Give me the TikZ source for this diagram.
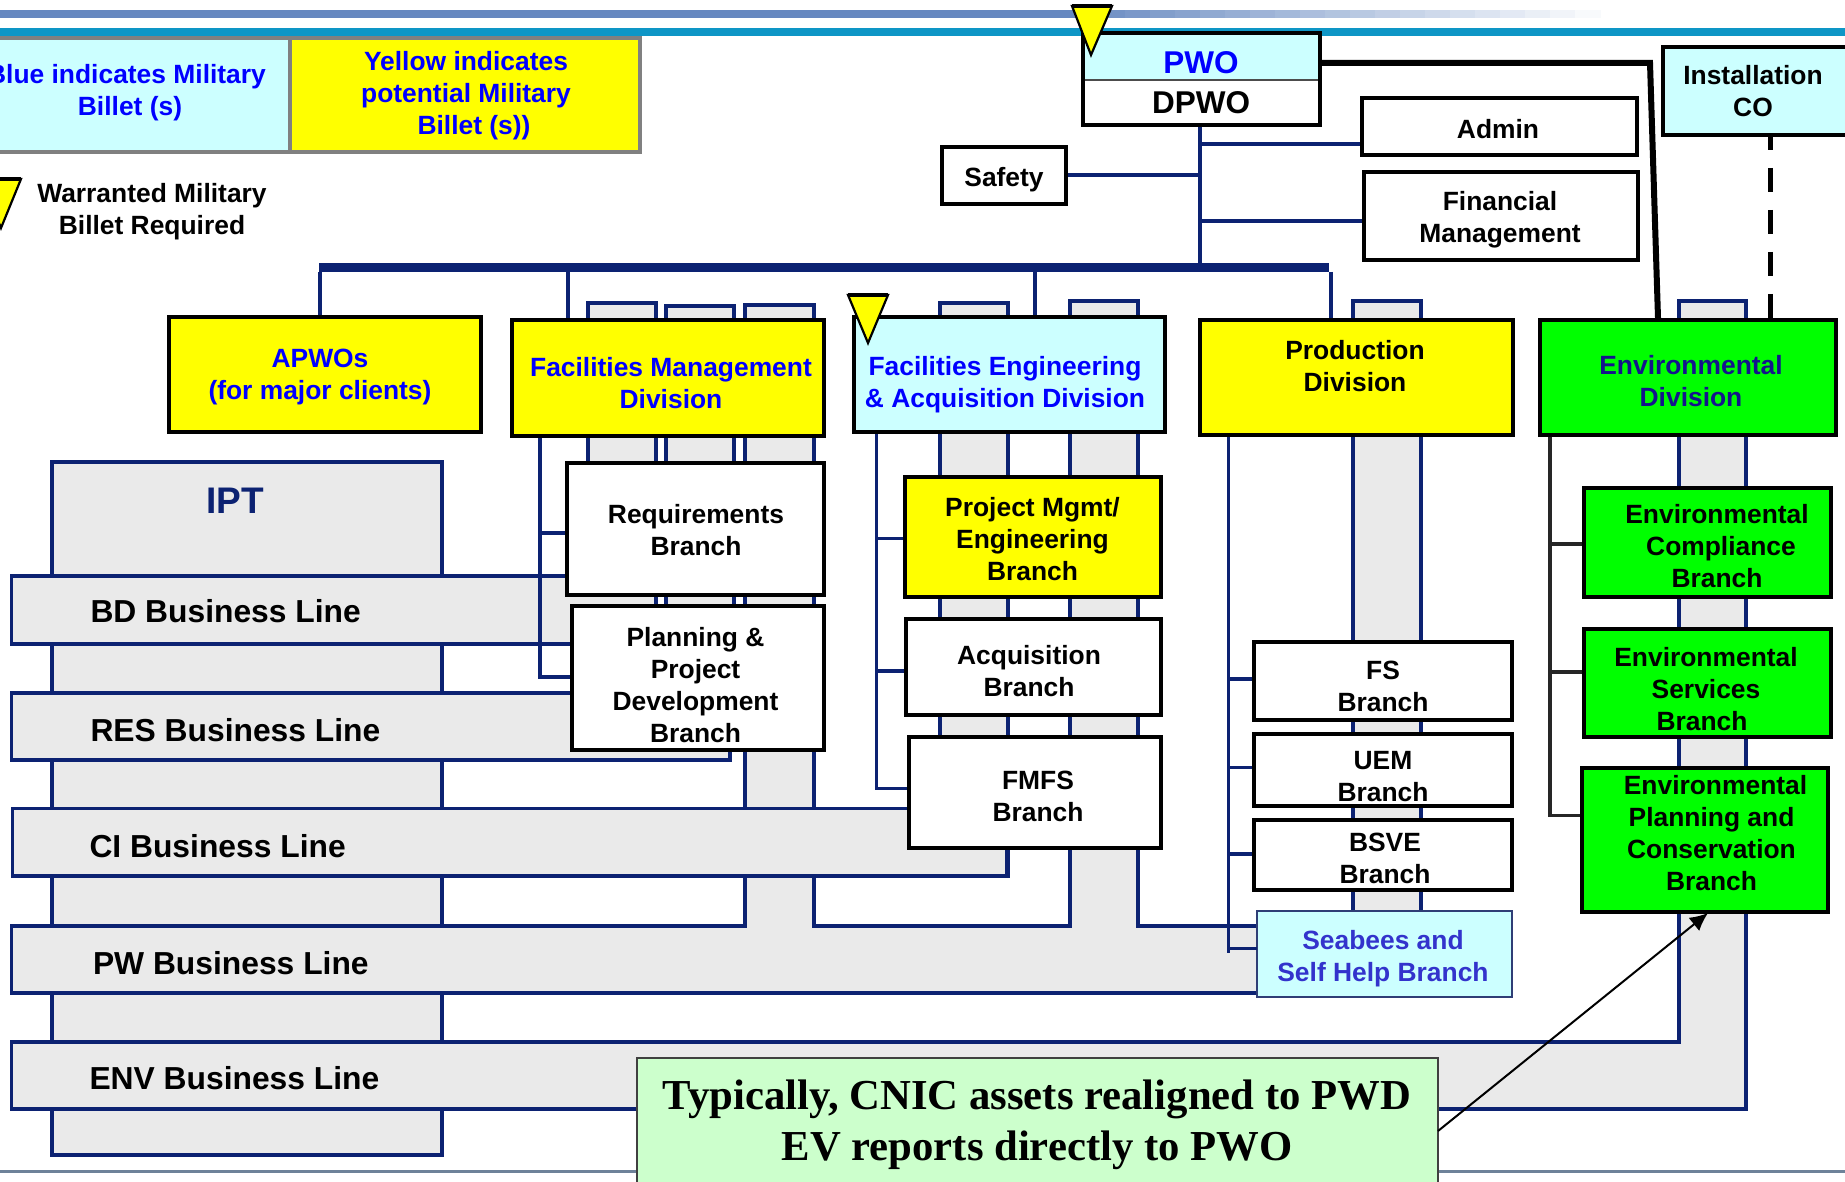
\documentclass[tikz,border=0pt]{standalone}
\usepackage{fontspec}
\setmainfont{Liberation Sans}
\newfontfamily\callfont{Liberation Serif}
\usetikzlibrary{arrows.meta}
\definecolor{navy}{HTML}{0C2272}
\definecolor{panel}{HTML}{EAEAEA}
\definecolor{cyanbox}{HTML}{CCFFFF}
\definecolor{keyyellow}{HTML}{FFFF00}
\definecolor{keygreen}{HTML}{00FF00}
\definecolor{pureblue}{HTML}{0000FF}
\definecolor{seablue}{HTML}{3333CC}
\definecolor{envtext}{HTML}{14148C}
\definecolor{callgreen}{HTML}{CCFFCC}
\definecolor{teal}{HTML}{0E96C6}
\definecolor{bandblue}{HTML}{6688C0}
\definecolor{footline}{HTML}{6E8299}
\definecolor{keygray}{HTML}{808080}
\tikzset{
  boxb/.style={draw=black,line width=4pt,inner sep=0pt,outer sep=0pt},
  flat/.style={inner sep=0pt,outer sep=0pt},
  keybox/.style={draw=keygray,line width=4pt,inner sep=0pt,outer sep=0pt},
  txt/.style={font=\fontsize{26.4}{32}\selectfont\bfseries,align=center,inner sep=0pt,outer sep=0pt},
  linetxt/.style={font=\fontsize{31.8}{36}\selectfont\bfseries,anchor=west,inner sep=0pt,outer sep=0pt},
  region/.style={fill=panel,draw=navy,line width=3.6pt,line join=miter},
  conn/.style={draw=navy,line width=3.6pt},
  blackconn/.style={draw=black!85,line width=3.4pt},
  tri/.style={fill=keyyellow,draw=black,line width=2.2pt,line join=miter},
  tritop/.style={draw=black,line width=4.5pt}
}
\newcommand{\bx}[6]{%
  \pgfmathsetmacro{\bxw}{#4-#2}\pgfmathsetmacro{\bxh}{#5-#3}%
  \node[#6,minimum width=\bxw pt,minimum height=\bxh pt] (#1) at ({(#2+#4)/2},{(#3+#5)/2}) {};}
% horizontal branch from a trunk point to a node anchor
\newcommand{\brh}[4]{\coordinate (qq) at (#1,#2); \draw[#4] (qq) -- (qq -| #3);}
% vertical drop at x from node anchor to node anchor
\newcommand{\drop}[4]{\coordinate (qq) at (#1,0); \draw[#4] (qq |- #2) -- (qq |- #3);}
\begin{document}
\begin{tikzpicture}[x=1pt,y=-1pt]
\useasboundingbox (0,0) rectangle (1845,1182);
\clip (0,0) rectangle (1845,1182);
\fill[white] (0,0) rectangle (1845,1182);
% header bands
\fill[bandblue] (0,10) rectangle (1050,18);
\foreach \st in {0,...,21}{
  \pgfmathsetmacro{\mixv}{100-\st*100/22}
  \fill[bandblue!\mixv!white] ({1050+\st*25},10) rectangle ({1050+(\st+1)*25+0.5},18);
}
\fill[teal] (0,28) rectangle (1845,36);
\fill[footline] (0,1169.5) rectangle (1845,1172.5);
% business-line panels
\draw[region] (52,1155) -- (52,462) -- (442,462) -- (442,1155) -- cycle;
\draw[region] (11.5,1042) -- (1679,1042) -- (1679,301) -- (1746,301) -- (1746,1109) -- (11.5,1109) -- cycle;
\draw[region] (11.5,926) -- (745,926) -- (745,305) -- (814,305) -- (814,926) -- (1070,926) -- (1070,301) -- (1138,301) -- (1138,926) -- (1353,926) -- (1353,301) -- (1421,301) -- (1421,993) -- (11.5,993) -- cycle;
\draw[region] (12.6,808.5) -- (940,808.5) -- (940,303) -- (1008,303) -- (1008,876) -- (12.6,876) -- cycle;
\draw[region] (11.5,693) -- (666,693) -- (666,306) -- (734,306) -- (734,640) -- (730,640) -- (730,760) -- (11.5,760) -- cycle;
\draw[region] (11.5,576) -- (588,576) -- (588,303) -- (656,303) -- (656,644) -- (11.5,644) -- cycle;
\draw[navy,line width=5pt] (1007,848) -- (1007,878);
\node[txt,font=\fontsize{37}{42}\selectfont\bfseries,text=navy] (ipt) at (235,501) {IPT};
\node[linetxt] (bdl) at (90.5,611) {BD Business Line};
\node[linetxt] (resl) at (90.5,730) {RES Business Line};
\node[linetxt] (cil) at (89.5,846) {CI Business Line};
\node[linetxt] (pwl) at (93,963) {PW Business Line};
\node[linetxt] (envl) at (89.5,1078) {ENV Business Line};
% key
\bx{keyblue}{-20}{38}{290}{152}{keybox,fill=cyanbox}
\bx{keyyel}{290}{38}{640}{152}{keybox,fill=keyyellow}
\node[txt,text=pureblue] (keybluet) at (126.5,93) {Blue indicates Military\\\hspace*{7pt}Billet (s)};
\node[txt,text=pureblue] (keyyelt) at (466,96) {Yellow indicates\\potential Military\\\hspace*{16pt}Billet (s))};
\node[txt] (warrt) at (152,212) {Warranted Military\\Billet Required};
% spine nodes
\bx{pwo}{1083}{33}{1320}{80}{flat,fill=cyanbox}
\bx{dpwo}{1083}{80}{1320}{125}{flat,fill=white}
\bx{admin}{1362}{98}{1637}{155}{boxb,fill=white}
\bx{finance}{1364}{172}{1638}{260}{boxb,fill=white}
\bx{safety}{942}{147}{1066}{204}{boxb,fill=white}
\bx{instco}{1662.5}{47}{1860}{135}{boxb,fill=cyanbox}
\bx{bar}{319}{263}{1329}{272}{flat,fill=navy}
% divisions
\bx{apwo}{169}{317}{481}{432}{boxb,fill=keyyellow}
\bx{fm}{512}{320}{824}{436}{boxb,fill=keyyellow}
\bx{fe}{854}{317}{1165}{432}{boxb,fill=cyanbox}
\bx{prod}{1200}{320}{1513}{435}{boxb,fill=keyyellow}
\bx{env}{1540}{320}{1835.5}{435}{boxb,fill=keygreen}
% branches
\bx{req}{566.6}{462.6}{824}{594.7}{boxb,fill=white}
\bx{plan}{572}{605.5}{824}{750}{boxb,fill=white}
\bx{pm}{905}{477}{1161}{597}{boxb,fill=keyyellow}
\bx{acq}{906}{619}{1161}{715}{boxb,fill=white}
\bx{fmfs}{909}{737}{1161}{848}{boxb,fill=white}
\bx{fs}{1254.4}{642}{1512}{720}{boxb,fill=white}
\bx{uem}{1254.4}{734}{1512}{806}{boxb,fill=white}
\bx{bsve}{1254.4}{820}{1512}{890}{boxb,fill=white}
\bx{seabee}{1257}{911}{1512}{997}{flat,draw=navy!70!gray,line width=2pt,fill=cyanbox}
\bx{ec}{1584}{488}{1831}{597}{boxb,fill=keygreen}
\bx{es}{1584}{629}{1831}{737}{boxb,fill=keygreen}
\bx{ep}{1582}{768}{1828}{912}{boxb,fill=keygreen}
% connectors
\drop{1200}{dpwo.south}{bar.north}{conn}
\brh{1200}{144}{admin.west}{conn}
\brh{1200}{175}{safety.east}{conn}
\brh{1200}{221}{finance.west}{conn}
\drop{320}{bar.south}{apwo.north}{conn}
\drop{568}{bar.south}{fm.north}{conn}
\drop{1035}{bar.south}{fe.north}{conn}
\drop{1331}{bar.south}{prod.north}{conn}
% Facilities Management trunk
\coordinate (fmbranch) at (540,677);
\draw[conn] (fmbranch |- fm.south) -- (fmbranch) -- (fmbranch -| plan.west);
\brh{540}{533}{req.west}{conn}
% Facilities Engineering trunk
\coordinate (febranch) at (876.6,788.5);
\draw[conn] (febranch |- fe.south) -- (febranch) -- (febranch -| fmfs.west);
\brh{876.6}{538.5}{pm.west}{conn}
\brh{876.6}{671}{acq.west}{conn}
% Production trunk
\coordinate (prodbranch) at (1228.5,948.6);
\coordinate (prodend) at (1228.5,953);
\draw[conn] (prodbranch |- prod.south) -- (prodend);
\draw[conn] (prodbranch) -- (prodbranch -| seabee.west);
\brh{1228.5}{679}{fs.west}{conn}
\brh{1228.5}{767.5}{uem.west}{conn}
\brh{1228.5}{854}{bsve.west}{conn}
% Environmental trunk
\coordinate (envbranch) at (1550,815.5);
\draw[blackconn] (envbranch |- env.south) -- (envbranch) -- (envbranch -| ep.west);
\brh{1550}{544}{ec.west}{blackconn}
\brh{1550}{672}{es.west}{blackconn}
% redraw box outlines over the connector ends
\foreach \nn in {admin,finance,safety,apwo,fm,fe,prod,env,req,plan,pm,acq,fmfs,fs,uem,bsve,ec,es,ep}{
  \draw[black,line width=4pt] (\nn.north west) rectangle (\nn.south east);}
% PWO frame
\draw[black!70,line width=1.5pt] (pwo.south west) -- (pwo.south east);
\draw[black,line width=4pt] (pwo.north west) rectangle (dpwo.south east);
% PWO to Environmental, Installation CO to Environmental
\coordinate (pwoout) at (1319,63);
\coordinate (pwobend) at (1650,63);
\coordinate (envin) at (1658,318);
\draw[black,line width=6pt,line join=miter] (pwoout) -- (pwobend) -- (envin);
\drop{1770}{instco.south}{env.north}{draw=black,line width=5pt,dash pattern=on 24pt off 18pt,dash phase=9pt}
% texts
\node[txt,font=\fontsize{31.5}{36}\selectfont\bfseries,text=pureblue] (pwot) at (1201,63) {PWO};
\node[txt,font=\fontsize{31.5}{36}\selectfont\bfseries] (dpwot) at (1201,103) {DPWO};
\node[txt] (admint) at (1498,129) {Admin};
\node[txt] (financet) at (1500,220) {Financial\\Management};
\node[txt] (safetyt) at (1004,180) {Safety};
\node[txt] (instcot) at (1753,91) {Installation\\CO};
\node[txt,text=pureblue] (apwot) at (320,377.5) {APWOs\\(for major clients)};
\node[txt,text=pureblue] (fmt) at (671,383) {Facilities Management\\Division};
\node[txt,text=pureblue] (fet) at (1005,385) {Facilities Engineering\\\& Acquisition Division};
\node[txt] (prodt) at (1355,366) {Production\\Division};
\node[txt,text=envtext] (envt) at (1691,381) {Environmental\\Division};
\node[txt] (reqt) at (696,530) {Requirements\\Branch};
\node[txt] (plant) at (695.5,685) {Planning \&\\Project\\Development\\Branch};
\node[txt] (pmt) at (1032.5,539) {Project Mgmt/\\Engineering\\Branch};
\node[txt] (acqt) at (1029,671) {Acquisition\\Branch};
\node[txt] (fmfst) at (1038,796) {FMFS\\Branch};
\node[txt] (fst) at (1383,686.5) {FS\\Branch};
\node[txt] (uemt) at (1383,777) {UEM\\Branch};
\node[txt] (bsvet) at (1385,858.5) {BSVE\\Branch};
\node[txt,text=seablue] (seabeet) at (1383,959) {Seabees and\\Self Help Branch};
\node[txt] (ect) at (1717,546) {Environmental\\\hspace*{8pt}Compliance\\Branch};
\node[txt] (est) at (1706,689) {Environmental\\Services\\\hspace*{-8pt}Branch};
\node[txt] (ept) at (1711.5,833) {\hspace*{8pt}Environmental\\Planning and\\Conservation\\Branch};
% warrant triangles
\draw[tri] (1072,6) -- (1112,6) -- (1091,55) -- cycle;
\draw[tritop] (1072,6) -- (1112,6);
\draw[tri] (848,295) -- (888,295) -- (868,343) -- cycle;
\draw[tritop] (848,295) -- (888,295);
\draw[tri] (-19,179) -- (21,179) -- (1,228) -- cycle;
\draw[tritop] (-19,179) -- (21,179);
% callout
\bx{call}{637}{1058}{1438}{1200}{flat,draw=black!75,line width=2pt,fill=callgreen}
\node[txt,font=\fontsize{42.7}{51}\selectfont\bfseries\callfont] (callt) at (1037,1125) {Typically, CNIC assets realigned to PWD\\EV reports directly to PWO};
\coordinate (callout) at (1438,1131);
\coordinate (eptip) at (1708,913);
\draw[black,line width=2pt,-{Latex[length=18pt,width=17pt]}] (callout) -- (eptip);
\end{tikzpicture}
\end{document}
